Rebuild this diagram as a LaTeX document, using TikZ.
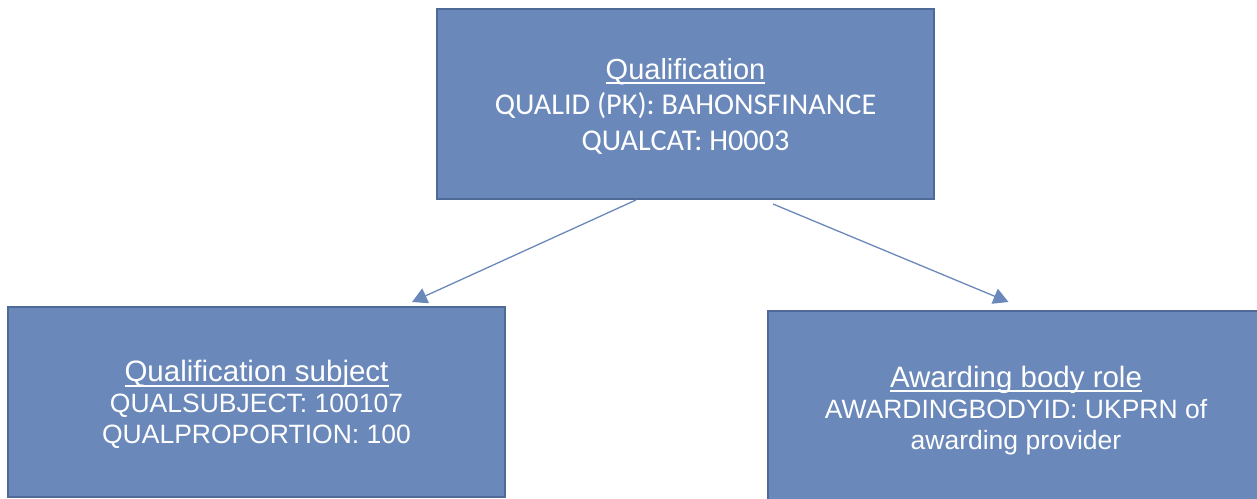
\documentclass[tikz,border=0pt]{standalone}
\usepackage{fontspec}
\setmainfont{Liberation Sans}
\newfontfamily\calib{Carlito}
\usetikzlibrary{arrows.meta}
\definecolor{boxfill}{RGB}{106,136,186}
\definecolor{boxline}{RGB}{79,106,150}
\definecolor{arrline}{RGB}{106,136,186}
\newcommand\myul[1]{\setbox0=\hbox{#1}\rlap{\rule[-5pt]{\wd0}{2pt}}\box0}
\newcommand\upstrut[1]{\rule{0pt}{#1}}
\tikzset{
  entity/.style={draw=boxline, line width=2pt, fill=boxfill, text=white,
    minimum width=497pt, minimum height=190pt, inner sep=0pt, align=center},
  conn/.style={draw=arrline, line width=1.3pt, -{Triangle[length=15pt,width=16pt]}}
}
\begin{document}
\begin{tikzpicture}[x=1pt,y=-1pt]
\useasboundingbox (0,0) rectangle (1257,498);
\node[entity, font=\fontsize{30.2}{35}\selectfont] (top) at (685.5,104)
  {\upstrut{25.5pt}{\fontsize{29}{35}\selectfont\myul{Qualification}}\\{\calib QUALID (PK): BAHONSFINANCE}\\[1pt]{\calib QUALCAT: H0003}};
\node[entity, font=\fontsize{26.5}{31}\selectfont] (left) at (256.5,402)
  {\upstrut{26.5pt}{\fontsize{29.5}{35}\selectfont\myul{Qualification subject}}\\QUALSUBJECT: 100107\\QUALPROPORTION: 100};
\node[entity, font=\fontsize{26.5}{31}\selectfont] (right) at (1016,406)
  {\upstrut{29.5pt}{\fontsize{29.5}{35}\selectfont\myul{Awarding body role}}\\AWARDINGBODYID: UKPRN of\\awarding provider};
\coordinate (s1) at ([xshift=200pt]top.south west);
\coordinate (t1) at ([xshift=405pt,yshift=4pt]left.north west);
\coordinate (s2) at ([xshift=337pt,yshift=-4pt]top.south west);
\coordinate (t2) at ([xshift=242pt,yshift=8pt]right.north west);
\draw[conn] (s1) -- (t1);
\draw[conn] (s2) -- (t2);
\end{tikzpicture}
\end{document}
